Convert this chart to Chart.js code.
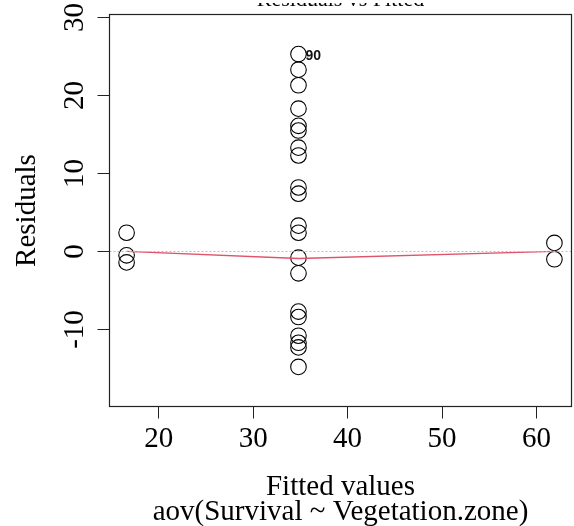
<!DOCTYPE html>
<html>
<head>
<meta charset="utf-8">
<script src="https://cdn.jsdelivr.net/npm/chart.js@4.4.1/dist/chart.umd.min.js"></script>
<style>
  html, body { margin: 0; padding: 0; background: #ffffff; }
  #wrap { width: 574px; height: 526px; }
</style>
</head>
<body>
<div id="wrap"><canvas id="plot" width="574" height="526"></canvas></div>
<script>
// Fitted value of each vegetation zone (group means)
const zoneFitted = [16.6, 34.8, 61.9];
// Residuals per zone
const lowZoneResid = [2.4, -0.5, -1.4];
const midZoneResid = [25.3, 23.3, 21.3, 18.3, 16.1, 15.5, 13.3, 12.3, 8.2, 7.4,
                      3.3, 2.4, -0.8, -2.8, -7.7, -8.4, -10.8, -11.7, -12.3, -14.8];
const highZoneResid = [1.1, -1.0];
// Lowess smooth of the residuals at each fitted value
const smoothResid = [0.0, -0.9, 0.0];
// Axis ticks and limits
const xTickValues = [20, 30, 40, 50, 60];
const yTickValues = [-10, 0, 10, 20, 30];
const xLimits = [14.79, 63.71];
const yLimits = [-19.87, 30.37];
// Observation flagged by id
const flaggedId = '90';

const serif = '"Liberation Serif", "Times New Roman", serif';

const residPoints = [];
[lowZoneResid, midZoneResid, highZoneResid].forEach((arr, g) => {
  arr.forEach(r => residPoints.push({ x: zoneFitted[g], y: r }));
});
const smoothPoints = zoneFitted.map((f, i) => ({ x: f, y: smoothResid[i] }));
const zeroLine = [{ x: xLimits[0], y: 0 }, { x: xLimits[1], y: 0 }];

// keep the panel edges fixed regardless of label overhang
function noOverhang(scale) {
  scale.paddingLeft = 0;
  scale.paddingRight = 0;
  scale.paddingTop = 0;
  scale.paddingBottom = 0;
}

// Frame, caption and point id drawn on top of the chart
const framePlugin = {
  id: 'frame',
  afterDraw(chart) {
    const { ctx, chartArea: a, scales } = chart;
    ctx.save();
    ctx.strokeStyle = '#222';
    ctx.lineWidth = 1.2;
    ctx.strokeRect(a.left, a.top, a.right - a.left, a.bottom - a.top);

    // caption above the panel (only its lower edge falls inside the canvas)
    ctx.save();
    ctx.beginPath();
    ctx.rect(0, 3, chart.width, a.top - 3);
    ctx.clip();
    ctx.fillStyle = '#000';
    ctx.font = '22px ' + serif;
    ctx.textAlign = 'center';
    ctx.textBaseline = 'alphabetic';
    ctx.fillText('Residuals vs Fitted', (a.left + a.right) / 2, 5.5);
    ctx.restore();

    // id of the largest residual
    let top = residPoints[0];
    residPoints.forEach(p => { if (p.y > top.y) top = p; });
    const px = scales.x.getPixelForValue(top.x);
    const py = scales.y.getPixelForValue(top.y);
    ctx.fillStyle = '#111';
    ctx.font = 'bold 14px "Liberation Sans", Arial, sans-serif';
    ctx.textAlign = 'left';
    ctx.textBaseline = 'middle';
    ctx.fillText(flaggedId, px + 7, py + 2);
    ctx.restore();
  }
};

new Chart(document.getElementById('plot'), {
  type: 'scatter',
  data: {
    datasets: [
      {
        type: 'line',
        data: zeroLine,
        borderColor: '#BEBEBE',
        borderWidth: 1,
        borderDash: [2, 2],
        pointRadius: 0,
        fill: false
      },
      {
        type: 'line',
        data: smoothPoints,
        borderColor: '#DF536B',
        borderWidth: 1.3,
        pointRadius: 0,
        tension: 0,
        fill: false
      },
      {
        data: residPoints,
        pointStyle: 'circle',
        pointRadius: 7.8,
        pointBorderWidth: 1.1,
        pointBorderColor: '#000',
        pointBackgroundColor: 'rgba(0,0,0,0)',
        showLine: false
      }
    ]
  },
  options: {
    responsive: false,
    animation: false,
    devicePixelRatio: 1,
    layout: { autoPadding: false, padding: { top: 14.5, right: 2.5, left: 0, bottom: 0 } },
    plugins: { legend: { display: false }, tooltip: { enabled: false } },
    scales: {
      x: {
        type: 'linear',
        position: 'bottom',
        min: xLimits[0],
        max: xLimits[1],
        afterBuildTicks(scale) { scale.ticks = xTickValues.map(v => ({ value: v })); },
        afterFit(scale) { scale.height = 119.5; noOverhang(scale); },
        border: { display: false },
        grid: { drawOnChartArea: false, drawTicks: true, tickLength: 12, color: '#222', lineWidth: 1 },
        ticks: {
          color: '#000',
          padding: 3.8,
          maxRotation: 0,
          autoSkip: false,
          font: { family: serif, size: 29 },
          callback: v => String(v)
        },
        title: {
          display: true,
          text: ['Fitted values', 'aov(Survival ~ Vegetation.zone)'],
          color: '#000',
          font: { family: serif, size: 29, lineHeight: '25px' },
          padding: { top: 0, bottom: 1.3 }
        }
      },
      y: {
        type: 'linear',
        position: 'left',
        min: yLimits[0],
        max: yLimits[1],
        afterBuildTicks(scale) { scale.ticks = yTickValues.map(v => ({ value: v })); },
        afterFit(scale) { scale.width = 109.5; noOverhang(scale); },
        border: { display: false },
        grid: { drawOnChartArea: false, drawTicks: true, tickLength: 12, color: '#222', lineWidth: 1 },
        ticks: {
          color: '#000',
          padding: 2.7,
          minRotation: 90,
          maxRotation: 90,
          crossAlign: 'center',
          autoSkip: false,
          font: { family: serif, size: 29 },
          callback: v => String(v)
        },
        title: {
          display: true,
          text: 'Residuals',
          color: '#000',
          font: { family: serif, size: 29 },
          padding: { top: 10, bottom: 0 }
        }
      }
    }
  },
  plugins: [framePlugin]
});
</script>
</body>
</html>
